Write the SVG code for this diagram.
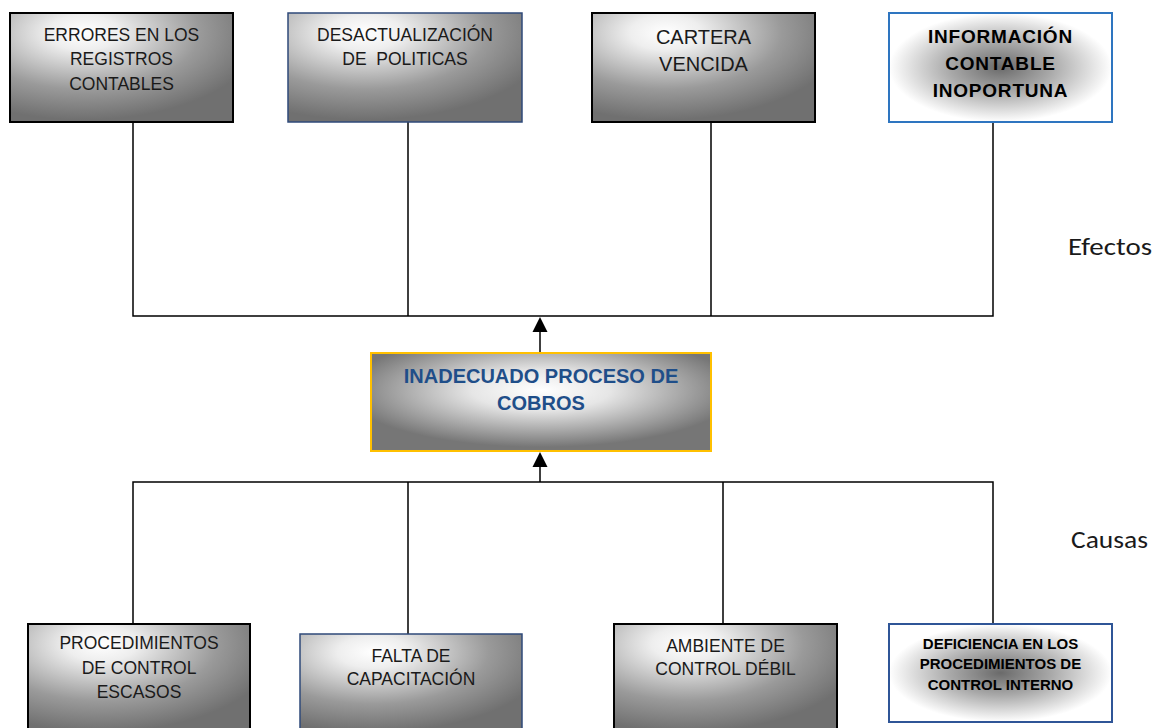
<svg xmlns="http://www.w3.org/2000/svg" width="1156" height="728" viewBox="0 0 1156 728">
  <style>
    .t { font-family: "Liberation Sans", Arial, sans-serif; fill: #1a1a1a; text-anchor: middle; }
    .n { font-size: 17.5px; }
    .b { font-weight: bold; fill: #000; }
    .side { font-family: Carlito, Calibri, Lato, sans-serif; font-size: 25px; fill: #1a1a1a; }
    .wire { stroke: #000; stroke-width: 1.5; fill: none; }
    .grey { fill: url(#gGrey); }
    .dark { stroke: #000; stroke-width: 2; }
    .navy { stroke: #2f4a7a; stroke-width: 1.5; }
  </style>
  <defs>
    <radialGradient id="gGrey" cx="0.33" cy="0.18" r="0.8" fx="0.33" fy="0.18">
      <stop offset="0" stop-color="#ffffff"/>
      <stop offset="0.2" stop-color="#eeeeee"/>
      <stop offset="0.65" stop-color="#9a9a9a"/>
      <stop offset="1" stop-color="#707070"/>
    </radialGradient>
    <radialGradient id="gCore" cx="0.5" cy="0.5" r="0.5">
      <stop offset="0" stop-color="#6a6a6a"/>
      <stop offset="0.45" stop-color="#a8a8a8"/>
      <stop offset="1" stop-color="#ffffff"/>
    </radialGradient>
    <radialGradient id="gMain" cx="0.5" cy="0.38" r="0.58">
      <stop offset="0" stop-color="#ffffff"/>
      <stop offset="0.35" stop-color="#e6e6e6"/>
      <stop offset="1" stop-color="#767676"/>
    </radialGradient>
    <marker id="arrow" markerWidth="10" markerHeight="10" refX="5" refY="0" orient="auto" viewBox="-5 0 10 10" markerUnits="userSpaceOnUse">
      <path d="M0,0 L5,10 L-5,10 Z" fill="#000"/>
    </marker>
  </defs>

  <!-- connectors -->
  <g id="connectors">
    <path class="wire" d="M133,122 V316 H993 V122 M408,122 V316 M711,122 V316"/>
    <path class="wire" d="M540,353 V332"/>
    <path d="M540,317 L547.5,332 L532.5,332 Z" fill="#000"/>
    <path class="wire" d="M133,624 V482 H993 V624 M408,482 V634 M723,482 V624"/>
    <path class="wire" d="M540,482 V466"/>
    <path d="M540,452 L547.5,467 L532.5,467 Z" fill="#000"/>
  </g>

  <!-- effects -->
  <g id="efecto-errores">
    <rect x="10" y="13" width="223" height="109" class="grey dark"/>
    <text class="t n" x="121.5" y="41">ERRORES EN LOS</text>
    <text class="t n" x="121.5" y="65">REGISTROS</text>
    <text class="t n" x="121.5" y="90">CONTABLES</text>
  </g>
  <g id="efecto-desactualizacion">
    <rect x="288" y="13" width="234" height="109" class="grey navy"/>
    <text class="t n" x="405" y="41">DESACTUALIZACIÓN</text>
    <text class="t n" x="405" y="65" xml:space="preserve">DE  POLITICAS</text>
  </g>
  <g id="efecto-cartera">
    <rect x="592" y="13" width="223" height="109" class="grey dark"/>
    <text class="t" style="font-size:20px" x="703.5" y="44">CARTERA</text>
    <text class="t" style="font-size:20px" x="703.5" y="71">VENCIDA</text>
  </g>
  <g id="efecto-informacion">
    <rect x="889" y="13" width="223" height="109" fill="url(#gCore)" stroke="#2e75c0" stroke-width="2"/>
    <text class="t b" style="font-size:19px;letter-spacing:0.8px" x="1000.5" y="43">INFORMACIÓN</text>
    <text class="t b" style="font-size:19px;letter-spacing:0.8px" x="1000.5" y="70">CONTABLE</text>
    <text class="t b" style="font-size:19px;letter-spacing:0.8px" x="1000.5" y="97">INOPORTUNA</text>
  </g>

  <!-- central problem -->
  <g id="problema">
    <rect x="371" y="353" width="340" height="98" fill="url(#gMain)" stroke="#ffc000" stroke-width="2"/>
    <text class="t b" style="font-size:20px;fill:#1f4e89" x="541" y="383">INADECUADO PROCESO DE</text>
    <text class="t b" style="font-size:20px;fill:#1f4e89" x="541" y="410">COBROS</text>
  </g>

  <!-- causes -->
  <g id="causa-procedimientos">
    <rect x="28" y="624" width="222" height="110" class="grey dark"/>
    <text class="t n" x="139" y="649">PROCEDIMIENTOS</text>
    <text class="t n" x="139" y="674">DE CONTROL</text>
    <text class="t n" x="139" y="698">ESCASOS</text>
  </g>
  <g id="causa-capacitacion">
    <rect x="300" y="634" width="222" height="100" class="grey navy"/>
    <text class="t n" x="411" y="662">FALTA DE</text>
    <text class="t n" x="411" y="685">CAPACITACIÓN</text>
  </g>
  <g id="causa-ambiente">
    <rect x="614" y="624" width="223" height="110" class="grey dark"/>
    <text class="t n" x="725.5" y="652">AMBIENTE DE</text>
    <text class="t n" x="725.5" y="675">CONTROL DÉBIL</text>
  </g>
  <g id="causa-deficiencia">
    <rect x="889" y="624" width="223" height="98" fill="url(#gCore)" stroke="#2f5597" stroke-width="2"/>
    <text class="t b" style="font-size:15px" x="1000.5" y="649">DEFICIENCIA EN LOS</text>
    <text class="t b" style="font-size:15px" x="1000.5" y="669">PROCEDIMIENTOS DE</text>
    <text class="t b" style="font-size:15px" x="1000.5" y="690">CONTROL INTERNO</text>
  </g>

  <!-- side labels -->
  <text class="side" x="1068" y="255" textLength="84" lengthAdjust="spacingAndGlyphs">Efectos</text>
  <text class="side" x="1071" y="548" textLength="77" lengthAdjust="spacingAndGlyphs">Causas</text>
</svg>
